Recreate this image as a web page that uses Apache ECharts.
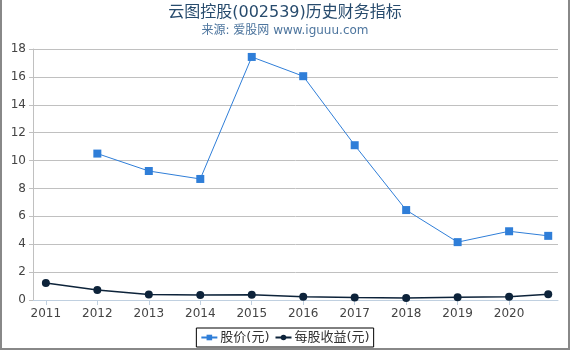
<!DOCTYPE html>
<html><head><meta charset="utf-8">
<script src="https://cdn.jsdelivr.net/npm/echarts@6/dist/echarts.min.js"></script>
<style>
html,body{margin:0;padding:0;background:#fff;}
#wrap{width:570px;height:350px;box-sizing:border-box;border-left:2px solid #888;border-right:2px solid #888;border-bottom:2px solid #888;position:relative;}
#c{position:absolute;left:-2px;top:0;width:570px;height:350px;}
</style></head>
<body><div id="wrap"><div id="c"></div></div>
<script>
const xValues = [2011, 2012, 2013, 2014, 2015, 2016, 2017, 2018, 2019, 2020, 2020.76];
const tickYears = [2011, 2012, 2013, 2014, 2015, 2016, 2017, 2018, 2019, 2020];
const price = [null, 10.5, 9.25, 8.68, 17.43, 16.05, 11.1, 6.45, 4.15, 4.93, 4.6];
const eps = [1.22, 0.72, 0.39, 0.36, 0.38, 0.24, 0.18, 0.14, 0.2, 0.23, 0.42];
const seriesNames = ['股价(元)', '每股收益(元)'];
const font = 'DejaVu Sans, Noto Sans CJK SC, sans-serif';

const chart = echarts.init(document.getElementById('c'), null, {renderer: 'canvas'});
chart.setOption({
  animation: false,
  title: {
    text: '云图控股(002539)历史财务指标',
    subtext: '来源: 爱股网 www.iguuu.com',
    left: 'center', top: 0, itemGap: 4,
    textStyle: {fontFamily: font, fontSize: 16, fontWeight: 'normal', color: '#274b6d'},
    subtextStyle: {fontFamily: font, fontSize: 12, color: '#4d759e'}
  },
  legend: {
    bottom: 3, left: 'center',
    borderColor: '#000', borderWidth: 1, borderRadius: 0,
    padding: [3, 4], itemGap: 5, itemWidth: 16, itemHeight: 7,
    textStyle: {fontFamily: font, fontSize: 13, color: '#333', padding: [0, 0, 0, -2]},
    data: seriesNames
  },
  grid: {left: 33, right: 12, top: 49, bottom: 50, containLabel: false},
  xAxis: {
    type: 'value', min: 2010.75, max: 2020.95,
    splitLine: {show: false},
    axisLine: {lineStyle: {color: '#c0d0e0'}},
    axisTick: {show: true, customValues: tickYears, length: 5, lineStyle: {color: '#c0d0e0'}},
    axisLabel: {customValues: tickYears, fontFamily: font, fontSize: 12, color: '#444', margin: 8,
      formatter: v => String(Math.round(v))}
  },
  yAxis: {
    type: 'value', min: 0, max: 18, interval: 2,
    axisLine: {show: true, lineStyle: {color: '#c0c0c0'}},
    axisTick: {show: true, length: 4, lineStyle: {color: '#c0c0c0'}},
    splitLine: {lineStyle: {color: '#c0c0c0'}},
    axisLabel: {fontFamily: font, fontSize: 12, color: '#444', margin: 7}
  },
  series: [
    {
      name: seriesNames[0], type: 'line',
      data: xValues.map((x, i) => [x, price[i]]),
      symbol: 'rect', symbolSize: 8, connectNulls: false,
      lineStyle: {width: 1, color: '#2f7ed8'},
      itemStyle: {color: '#2f7ed8'}
    },
    {
      name: seriesNames[1], type: 'line',
      data: xValues.map((x, i) => [x, eps[i]]),
      symbol: 'circle', symbolSize: 8,
      lineStyle: {width: 1.5, color: '#0d233a'},
      itemStyle: {color: '#0d233a'}
    }
  ]
});
</script></body></html>
